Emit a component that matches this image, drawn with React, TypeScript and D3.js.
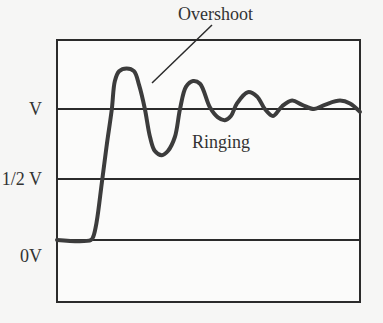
import React from "react";
import * as d3 from "d3";

// time (arbitrary units, 0..100 across the box) and voltage (fraction of V)
const times = [0, 11.2, 12.0, 13.1, 14.8, 16.4, 18.1, 19.1, 20.5, 23.0, 25.4, 27.1, 29.0, 30.7, 32.3, 34.6, 36.6, 38.9, 40.6, 42.6, 44.9, 47.2, 50.5, 53.1, 55.4, 57.4, 59.4, 63.0, 66.0, 68.6, 71.3, 74.3, 77.6, 80.9, 84.8, 88.4, 93.4, 96.7, 100];
const volts = [0, 0, 0.03, 0.15, 0.47, 0.74, 1.0, 1.2, 1.27, 1.29, 1.27, 1.17, 1.0, 0.8, 0.7, 0.67, 0.7, 0.8, 1.0, 1.16, 1.2, 1.18, 1.01, 0.94, 0.92, 0.95, 1.04, 1.12, 1.09, 1.0, 0.95, 1.02, 1.06, 1.03, 1.0, 1.03, 1.06, 1.04, 0.98];

const levelValues = [0, 0.5, 1];
const levelLabels = ["0V", "1/2 V", "V"];

const annotations = ["Overshoot", "Ringing"];

export default function App() {
  const W = 383, H = 323;
  const left = 57, right = 360, top = 40, bottom = 302;
  const x = d3.scaleLinear().domain([0, 100]).range([left, right]);
  const y = d3.scaleLinear().domain([0, 0.5, 1]).range([240, 179, 109]);

  const pts: [number, number][] = times.map((t, i) => [t, volts[i]]);
  const line = d3
    .line<[number, number]>()
    .x((d) => x(d[0]))
    .y((d) => y(d[1]))
    .curve(d3.curveCatmullRom.alpha(0.5));

  const font = "'Liberation Serif', 'DejaVu Serif', serif";
  const ink = "#2b2b2b";

  return (
    <svg
      width={W}
      height={H}
      style={{ position: "absolute", left: 0, top: 0, background: "#f6f6f5" }}
    >
      <rect x={0} y={0} width={W} height={H} fill="#f6f6f5" />
      <rect
        x={left}
        y={top}
        width={right - left}
        height={bottom - top}
        fill="#fbfbfa"
        stroke={ink}
        strokeWidth={2}
      />
      {levelValues.map((v, i) => (
        <g key={i}>
          <line
            x1={left}
            x2={right}
            y1={y(v)}
            y2={y(v)}
            stroke={ink}
            strokeWidth={2}
          />
          <text
            x={42}
            y={y(v) + (i === 0 ? 22 : 6)}
            textAnchor="end"
            fontFamily={font}
            fontSize={18}
            fill="#333"
          >
            {levelLabels[i]}
          </text>
        </g>
      ))}
      <path
        d={line(pts) || ""}
        fill="none"
        stroke="#3c3c3c"
        strokeWidth={4}
        strokeLinejoin="round"
        strokeLinecap="round"
      />
      <line x1={212} y1={25} x2={152} y2={83} stroke={ink} strokeWidth={1.5} />
      <text x={178} y={20} fontFamily={font} fontSize={18} fill="#333">
        {annotations[0]}
      </text>
      <text x={192} y={148} fontFamily={font} fontSize={18} fill="#333">
        {annotations[1]}
      </text>
    </svg>
  );
}
